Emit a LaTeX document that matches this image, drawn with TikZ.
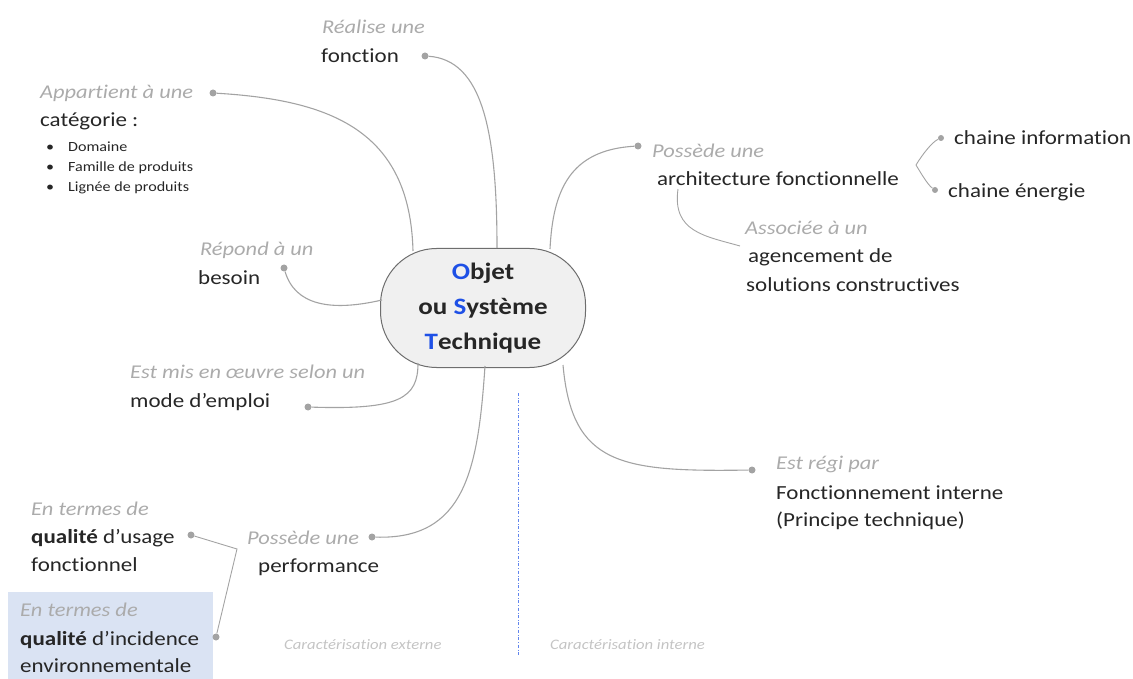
\documentclass[tikz,border=0pt]{standalone}
\usepackage{fontspec}
\setmainfont{Carlito}[FakeStretch=1.15, Ligatures=NoCommon]
\definecolor{lgray}{HTML}{ABABAB}
\definecolor{dtext}{HTML}{262626}
\definecolor{cgray}{HTML}{A3A3A3}
\definecolor{cartxt}{HTML}{C4C4C4}
\definecolor{oblue}{RGB}{30,80,230}
\definecolor{lblue}{HTML}{DAE3F3}
\definecolor{ellfill}{HTML}{F0F0F0}
\definecolor{elldraw}{HTML}{6E6E6E}
\begin{document}
\begin{tikzpicture}[x=1pt,y=-1pt,
  lbl/.style={font=\fontsize{19.5}{22}\selectfont\itshape, text=lgray, inner sep=0, anchor=base west},
  txt/.style={font=\fontsize{20}{22}\selectfont, text=dtext, inner sep=0, anchor=base west},
  small/.style={font=\fontsize{14}{16}\selectfont, text=dtext, inner sep=0, anchor=base west},
  cartl/.style={font=\fontsize{14.5}{16}\selectfont\itshape, text=cartxt, inner sep=0, anchor=base west},
  dot/.style={circle, fill=cgray, inner sep=0, minimum size=7pt},
  sdot/.style={circle, fill=cgray, inner sep=0, minimum size=6pt},
  conn/.style={draw=cgray, line width=1.1pt},
]
\useasboundingbox (0,0) rectangle (1133,679);
\fill[lblue] (8,592) rectangle (213,679);

% central node
\node (ost) [draw=elldraw, fill=ellfill, line width=1pt, rounded corners=56pt,
  minimum width=205pt, minimum height=119pt, align=center, inner sep=0,
  font=\fontsize{23.5}{35}\selectfont\bfseries, text=dtext] at (483,308)
  {{\color{oblue}O}bjet\\ou {\color{oblue}S}ystème\\{\color{oblue}T}echnique};

% fonction
\node[lbl] (l1) at (322,34) {Réalise une};
\node[txt] (t1) at (321,63) {fonction};
\node[dot] (d1) at (425,56) {};
\coordinate (a1) at (497,248);
\draw[conn] (d1) .. controls (482,60) and (497,130) .. (a1);

% categorie
\node[lbl] (l2) at (40,99) {Appartient à une};
\node[txt] (t2) at (40,127) {catégorie :};
\node[small] (b1x) at (46,152) {•};
\node[small] (b2x) at (46,172) {•};
\node[small] (b3x) at (46,192) {•};
\node[small] (b1) at (68,152) {Domaine};
\node[small] (b2) at (68,172) {Famille de produits};
\node[small] (b3) at (68,192) {Lignée de produits};
\node[dot] (d2) at (213,93) {};
\coordinate (a2) at (413,251);
\draw[conn] (d2) .. controls (330,100) and (410,130) .. (a2);

% besoin
\node[lbl] (l3) at (200,255) {Répond à un};
\node[txt] (t3) at (198,284) {besoin};
\node[dot] (d3) at (284,268) {};
\coordinate (a3) at (382,300);
\draw[conn] (d3) .. controls (295,305) and (330,312) .. (a3);

% mode d'emploi
\node[lbl] (l4) at (130,378) {Est mis en œuvre selon un};
\node[txt] (t4) at (130,407) {mode d’emploi};
\node[dot] (d4) at (308,407) {};
\coordinate (a4) at (418,363);
\draw[conn] (d4) .. controls (400,410) and (418,398) .. (a4);

% performance
\node[lbl] (l5) at (247,544) {Possède une};
\node[txt] (t5) at (258,572) {performance};
\node[dot] (d5) at (372,537) {};
\coordinate (a5) at (485,366);
\draw[conn] (d5) .. controls (465,540) and (478,470) .. (a5);

% qualite usage
\node[lbl] (l6) at (31,515) {En termes de};
\node[txt] (t6) at (31,543) {\textbf{qualité} d’usage};
\node[txt] (t6b) at (31,571) {fonctionnel};
\node[dot] (d6) at (191,535) {};
% qualite incidence
\node[lbl] (l7) at (20,616) {En termes de};
\node[txt] (t7) at (20,645) {\textbf{qualité} d’incidence};
\node[txt] (t7b) at (20,672) {environnementale};
\node[dot] (d7) at (216,637) {};
\coordinate (j1) at (237,549);
\draw[conn, line width=0.9pt] (d6) -- (j1) -- (d7);

% caracterisation
\node[cartl] (c1) at (284,649) {Caractérisation  externe};
\node[cartl] (c2) at (550,649) {Caractérisation  interne};
\coordinate (v1) at (518,393);
\coordinate (v2) at (518,656);
\draw[oblue!70, dash dot, line width=0.8pt] (v1) -- (v2);

% architecture
\node[lbl] (l8) at (652,158) {Possède une};
\node[txt] (t8) at (657,186) {architecture fonctionnelle};
\node[dot] (d8) at (638,146) {};
\coordinate (a8) at (550,249);
\draw[conn] (d8) .. controls (570,150) and (553,190) .. (a8);

% chaines
\node[txt] (t9) at (954,145) {chaine information};
\node[txt] (t10) at (948,198) {chaine énergie};
\node[sdot] (d9) at (941,138) {};
\node[sdot] (d10) at (935,190) {};
\coordinate (j2) at (916,165);
\draw[conn, line width=0.9pt] (j2) .. controls (922,155) and (932,142) .. (d9);
\draw[conn, line width=0.9pt] (j2) .. controls (922,175) and (928,185) .. (d10);

% agencement
\node[lbl] (l11) at (745,235) {Associée à un};
\node[txt] (t11) at (748,263) {agencement de};
\node[txt] (t11b) at (746,291) {solutions constructives};
\coordinate (j3) at (678,189);
\coordinate (a11) at (740,246);
\draw[conn, line width=0.9pt] (j3) .. controls (672,232) and (705,236) .. (a11);

% fonctionnement interne
\node[lbl] (l12) at (776,469) {Est régi par};
\node[txt] (t12) at (776,499) {Fonctionnement interne};
\node[txt] (t12b) at (776,526) {(Principe technique)};
\node[dot] (d12) at (752,470) {};
\coordinate (a12) at (563,365);
\draw[conn] (a12) .. controls (572,465) and (620,472) .. (d12);
\end{tikzpicture}
\end{document}
